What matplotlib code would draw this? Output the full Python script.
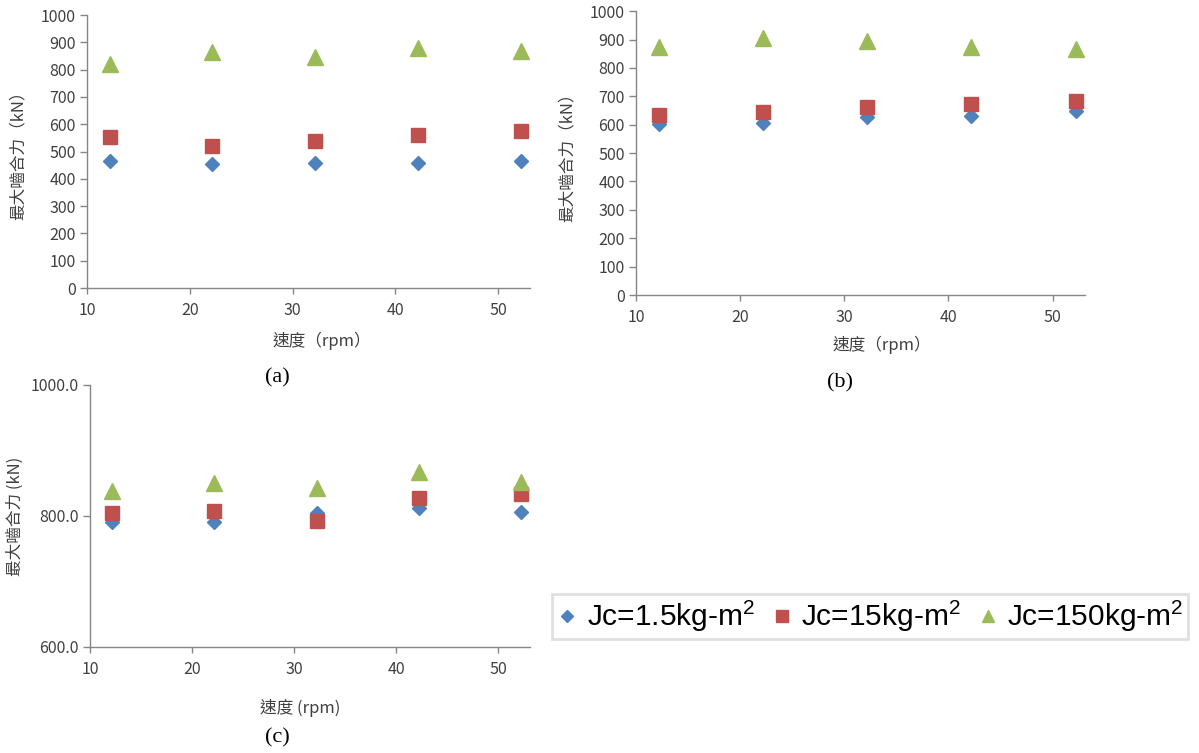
import matplotlib.pyplot as plt
from matplotlib.lines import Line2D

plt.rcParams['font.family'] = ['Noto Sans CJK TC', 'DejaVu Sans']
plt.rcParams['mathtext.fontset'] = 'custom'
plt.rcParams['mathtext.rm'] = 'Liberation Sans'
plt.rcParams['mathtext.it'] = 'Liberation Sans'
plt.rcParams['mathtext.bf'] = 'Liberation Sans'

speed = [12.2, 22.2, 32.2, 42.2, 52.2]

# (a)
a_jc15 = [465, 454, 457, 459, 465]
a_jc15b = [555, 520, 538, 561, 577]
a_jc150 = [820, 863, 847, 881, 869]

# (b)
b_jc15 = [604, 606, 627, 629, 647]
b_jc15b = [635, 645, 662, 672, 684]
b_jc150 = [872, 904, 895, 872, 868]

# (c)
c_jc15 = [791, 791, 805, 812, 806]
c_jc15b = [804, 807, 792, 828, 834]
c_jc150 = [838, 851, 842, 867, 852]

labels = [r'Jc=1.5kg-m$\mathrm{^2}$', r'Jc=15kg-m$\mathrm{^2}$', r'Jc=150kg-m$\mathrm{^2}$']
colors = ['#4F81BD', '#C0504D', '#9BBB59']
markers = ['D', 's', '^']
msizes = [7.5, 10, 11]

gray = '#868686'
tick_col = '#404040'

fig = plt.figure(figsize=(11.99, 7.53), dpi=100)


def panel(rect, series, ylim, yticks, ytl, xlab, ylab, tag, tagpos, xlabpos, ylabx):
    ax = fig.add_axes(rect)
    for vals, c, m, s in zip(series, colors, markers, msizes):
        ax.plot(speed, vals, ls='none', marker=m, color=c, ms=s, mec=c, clip_on=False)
    ax.set_xlim(10, 53.1)
    ax.set_ylim(*ylim)
    ax.set_xticks([10, 20, 30, 40, 50])
    ax.set_yticks(yticks)
    ax.set_yticklabels(ytl)
    for sp in ['top', 'right']:
        ax.spines[sp].set_visible(False)
    for sp in ['left', 'bottom']:
        ax.spines[sp].set_color(gray)
        ax.spines[sp].set_linewidth(1)
    ax.tick_params(axis='y', colors=gray, labelcolor=tick_col, labelsize=11.5, length=5, width=1, pad=3)
    ax.tick_params(axis='x', colors=gray, labelcolor=tick_col, labelsize=11.5, length=4, width=1, pad=6)
    fig.text(xlabpos[0], xlabpos[1], xlab, fontsize=12, color=tick_col, ha='center', va='center')
    fig.text(ylabx, rect[1] + rect[3] / 2, ylab, fontsize=12, color=tick_col, ha='center', va='center', rotation=90)
    fig.text(tagpos[0], tagpos[1], tag, fontsize=16, family='Liberation Serif', ha='center', va='center')
    return ax


ax_a = panel([0.0726, 0.6175, 0.3695, 0.3625], [a_jc15, a_jc15b, a_jc150], (0, 1000),
             range(0, 1001, 100), [str(v) for v in range(0, 1001, 100)],
             '速度（rpm）', '最大嚙合力（kN）', '(a)', (277 / 1199, 1 - 378 / 753),
             (322 / 1199, 1 - 341 / 753), 18 / 1199)

ax_b = panel([0.5304, 0.6082, 0.3745, 0.377], [b_jc15, b_jc15b, b_jc150], (0, 1000),
             range(0, 1001, 100), [str(v) for v in range(0, 1001, 100)],
             '速度（rpm）', '最大嚙合力（kN）', '(b)', (840 / 1199, 1 - 383 / 753),
             (882 / 1199, 1 - 345 / 753), 567 / 1199)

ax_c = panel([0.075, 0.1408, 0.367, 0.348], [c_jc15, c_jc15b, c_jc150], (600, 1000),
             [600, 800, 1000], ['600.0', '800.0', '1000.0'],
             '速度 (rpm)', '最大嚙合力 (kN)', '(c)', (277 / 1199, 1 - 738 / 753),
             (300 / 1199, 1 - 708 / 753), 15 / 1199)

handles = [Line2D([], [], ls='none', marker=m, color=c, ms=s * 0.85)
           for c, m, s in zip(colors, markers, msizes)]
leg = fig.legend(handles, labels, loc='center', bbox_to_anchor=(870 / 1199, 1 - 616.5 / 753),
                 ncol=3, frameon=True, fancybox=False, handletextpad=0.3,
                 columnspacing=0.55, handlelength=0.7, borderpad=0.15,
                 prop={'family': 'Liberation Sans', 'size': 21.5})
leg.get_frame().set_edgecolor('#D9D9D9')
leg.get_frame().set_linewidth(2)

fig.savefig('out.png', dpi=100)
